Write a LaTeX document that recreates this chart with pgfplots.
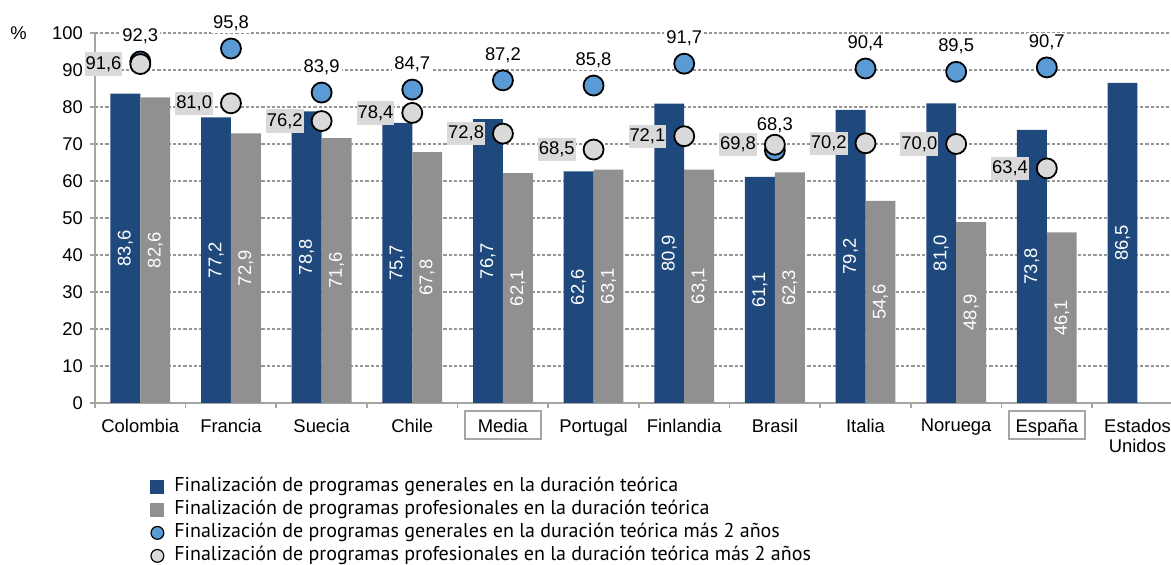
\documentclass[border=0pt]{standalone}
\usepackage{pgfplots}
\pgfplotsset{compat=1.18}
\usepackage{pgfplotstable}
\usepackage{fontspec}
\setmainfont{Liberation Sans}
\newfontfamily\legfont{PT Sans}

\definecolor{genbar}{RGB}{31,73,125}
\definecolor{profbar}{RGB}{144,144,144}
\definecolor{gendot}{RGB}{91,155,213}
\definecolor{profdot}{RGB}{217,217,217}
\definecolor{gridc}{RGB}{150,150,150}
\definecolor{axisc}{RGB}{165,165,165}

% general, professional, general+2, professional+2
\pgfplotstableread{
idx gen prof gentwo proftwo
0 83.6 82.6 92.3 91.6
1 77.2 72.9 95.8 81.0
2 78.8 71.6 83.9 76.2
3 75.7 67.8 84.7 78.4
4 76.7 62.1 87.2 72.8
5 62.6 63.1 85.8 68.5
6 80.9 63.1 91.7 72.1
7 61.1 62.3 68.3 69.8
8 79.2 54.6 90.4 70.2
9 81.0 48.9 89.5 70.0
10 73.8 46.1 90.7 63.4
11 86.5 nan nan nan
}\datatable

\newcommand\chartfont{\fontsize{9.2}{10}\selectfont}
\newcommand\vallabel{\pgfmathprintnumber[fixed,fixed zerofill,precision=1,use comma]{\pgfplotspointmeta}}

\begin{document}
\begin{tikzpicture}
\useasboundingbox (0,0) rectangle (585.5pt,282.5pt);
\begin{axis}[
  at={(47.5pt,81pt)}, anchor=south west,
  scale only axis, width=538pt, height=185pt,
  xmin=-0.5, xmax=11.37, ymin=0, ymax=100,
  clip=false,
  axis x line*=bottom, axis y line*=left,
  axis line style={axisc, line width=0.8pt},
  tick align=outside,
  major tick length=2.5pt,
  tick style={axisc, line width=0.8pt},
  ytick={0,10,...,100},
  ymajorgrids,
  grid style={gridc, line width=0.6pt, dash pattern=on 1.6pt off 1pt},
  xtick={-0.5,0.5,...,10.5},
  xticklabels={},
  extra x ticks={0,1,...,11},
  extra x tick labels={Colombia,Francia,Suecia,Chile,Media,Portugal,Finlandia,Brasil,Italia,Noruega,España,Estados\\Unidos},
  extra x tick style={major tick length=0pt, grid=none},
  xticklabel style={align=center, yshift=-4.5pt},
  tick label style={font=\chartfont},
  /pgf/number format/assume math mode=true,
  legend style={at={(0,0)}, anchor=north west, xshift=27.5pt, yshift=-36pt,
    draw=none, fill=none, inner sep=0pt, row sep=0pt, column sep=4pt,
    font=\legfont\fontsize{10}{11}\selectfont,
    nodes={text height=7pt, text depth=2.5pt, inner sep=1pt}},
  legend cell align=left,
]
\addplot[ybar, bar width=0.33, bar shift=-0.165, fill=genbar, draw=none,
  legend image code/.code={\fill[genbar] (0pt,-3.5pt) rectangle (7pt,3.5pt);}]
  table[x=idx, y=gen] {\datatable};
\addlegendentry{Finalización de programas generales en la duración teórica}
\addplot[ybar, bar width=0.33, bar shift=0.165, fill=profbar, draw=none,
  legend image code/.code={\fill[profbar] (0pt,-3.5pt) rectangle (7pt,3.5pt);}]
  table[x=idx, y=prof] {\datatable};
\addlegendentry{Finalización de programas profesionales en la duración teórica}

% labels inside the bars
\addplot[forget plot, only marks, mark=none, point meta=explicit,
  nodes near coords=\vallabel,
  every node near coord/.style={rotate=90, anchor=center, text=white, font=\chartfont}]
  table[x expr=\thisrow{idx}-0.165, y expr=\thisrow{gen}/2, meta=gen] {\datatable};
\addplot[forget plot, only marks, mark=none, point meta=explicit,
  nodes near coords=\vallabel,
  every node near coord/.style={rotate=90, anchor=center, text=white, font=\chartfont}]
  table[x expr=\thisrow{idx}+0.165, y expr=\thisrow{prof}/2, meta=prof] {\datatable};

\addplot[only marks, mark=*, mark size=5pt,
  mark options={fill=gendot, draw=black, line width=0.9pt},
  point meta=explicit, nodes near coords=\vallabel,
  every node near coord/.style={anchor=base, yshift=10pt, fill=white, inner sep=1pt, font=\chartfont},
  legend image code/.code={\draw[fill=gendot, line width=0.6pt] (3.5pt,0) circle (3.2pt);}]
  table[x=idx, y=gentwo, meta=gentwo] {\datatable};
\addlegendentry{Finalización de programas generales en la duración teórica más 2 años}
\addplot[only marks, mark=*, mark size=5pt,
  mark options={fill=profdot, draw=black, line width=0.9pt},
  point meta=explicit, nodes near coords=\vallabel,
  every node near coord/.style={anchor=east, xshift=-8.5pt, fill=profdot, inner xsep=0.5pt, inner ysep=2pt, font=\chartfont},
  legend image code/.code={\draw[fill=profdot, line width=0.6pt] (3.5pt,0) circle (3.2pt);}]
  table[x=idx, y=proftwo, meta=proftwo] {\datatable};
\addlegendentry{Finalización de programas profesionales en la duración teórica más 2 años}

\node[draw=axisc, line width=0.9pt, minimum width=38pt, minimum height=14pt, inner sep=0pt] at (axis cs:4,-5.95) {};
\node[draw=axisc, line width=0.9pt, minimum width=38pt, minimum height=14pt, inner sep=0pt] at (axis cs:10,-5.95) {};
\node[font=\chartfont] at (axis cs:-0.5,100) [xshift=-38.25pt] {\%};
\end{axis}
\end{tikzpicture}
\end{document}
